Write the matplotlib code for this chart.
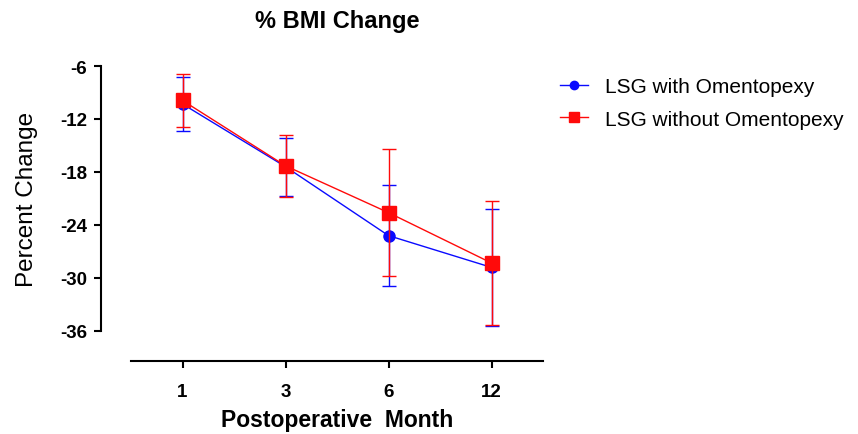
import numpy as np
import matplotlib.pyplot as plt
from matplotlib.lines import Line2D

plt.rcParams['font.family'] = ['Liberation Sans', 'DejaVu Sans']
plt.rcParams['axes.unicode_minus'] = False

months = ['1', '3', '6', '12']
with_mean = [-10.3, -17.4, -25.2, -28.8]
with_sd = [3.1, 3.3, 5.7, 6.6]
without_mean = [-9.9, -17.3, -22.6, -28.3]
without_sd = [3.0, 3.5, 7.2, 7.0]
yticks = [-6, -12, -18, -24, -30, -36]

blue = '#0a0aff'
red = '#ff0a0a'

fig = plt.figure(figsize=(8.58, 4.35), dpi=100)
ax = fig.add_axes([131 / 858, 103 / 435, 412 / 858, 265 / 435])

x = np.arange(len(months))
ax.errorbar(x, with_mean, yerr=with_sd, color=blue, marker='o', ms=8,
            lw=1.0, elinewidth=1.0, capsize=4.7, capthick=1.0, zorder=3)
ax.errorbar(x, without_mean, yerr=without_sd, color=red, marker='s', ms=9.5,
            lw=1.0, elinewidth=1.0, capsize=4.7, capthick=1.0, zorder=4)

ax.set_xlim(-0.5, 3.5)
ax.set_ylim(-36, -6)
ax.set_xticks(x)
ax.set_xticklabels(months)
ax.set_yticks(yticks)

for s in ['top', 'right']:
    ax.spines[s].set_visible(False)
for s in ['left', 'bottom']:
    ax.spines[s].set_linewidth(1.5)
    ax.spines[s].set_position(('outward', 21.6))

ax.tick_params(width=1.5, length=5, labelsize=13.5)
ax.tick_params(axis='y', pad=5)
ax.tick_params(axis='x', pad=10.5)
for lab in ax.get_xticklabels() + ax.get_yticklabels():
    lab.set_fontweight('bold')

ax.set_title('% BMI Change', fontsize=17, fontweight='bold', pad=28)
ax.set_xlabel('Postoperative  Month', fontsize=16.5, fontweight='bold', labelpad=6)
ax.set_ylabel('Percent Change', fontsize=17.5)
ax.yaxis.set_label_coords(-0.226, 0.5)

handles = [
    Line2D([], [], color=blue, lw=1.0, marker='o', ms=6),
    Line2D([], [], color=red, lw=1.0, marker='s', ms=7),
]
labels = ['LSG with Omentopexy', 'LSG without Omentopexy']
fig.legend(handles, labels, loc='upper left',
           bbox_to_anchor=(560 / 858, 1 - 78 / 435), frameon=False,
           fontsize=15, handlelength=1.35, handletextpad=0.8,
           labelspacing=0.65, borderpad=0, borderaxespad=0)

fig.savefig('out.png', dpi=100)
